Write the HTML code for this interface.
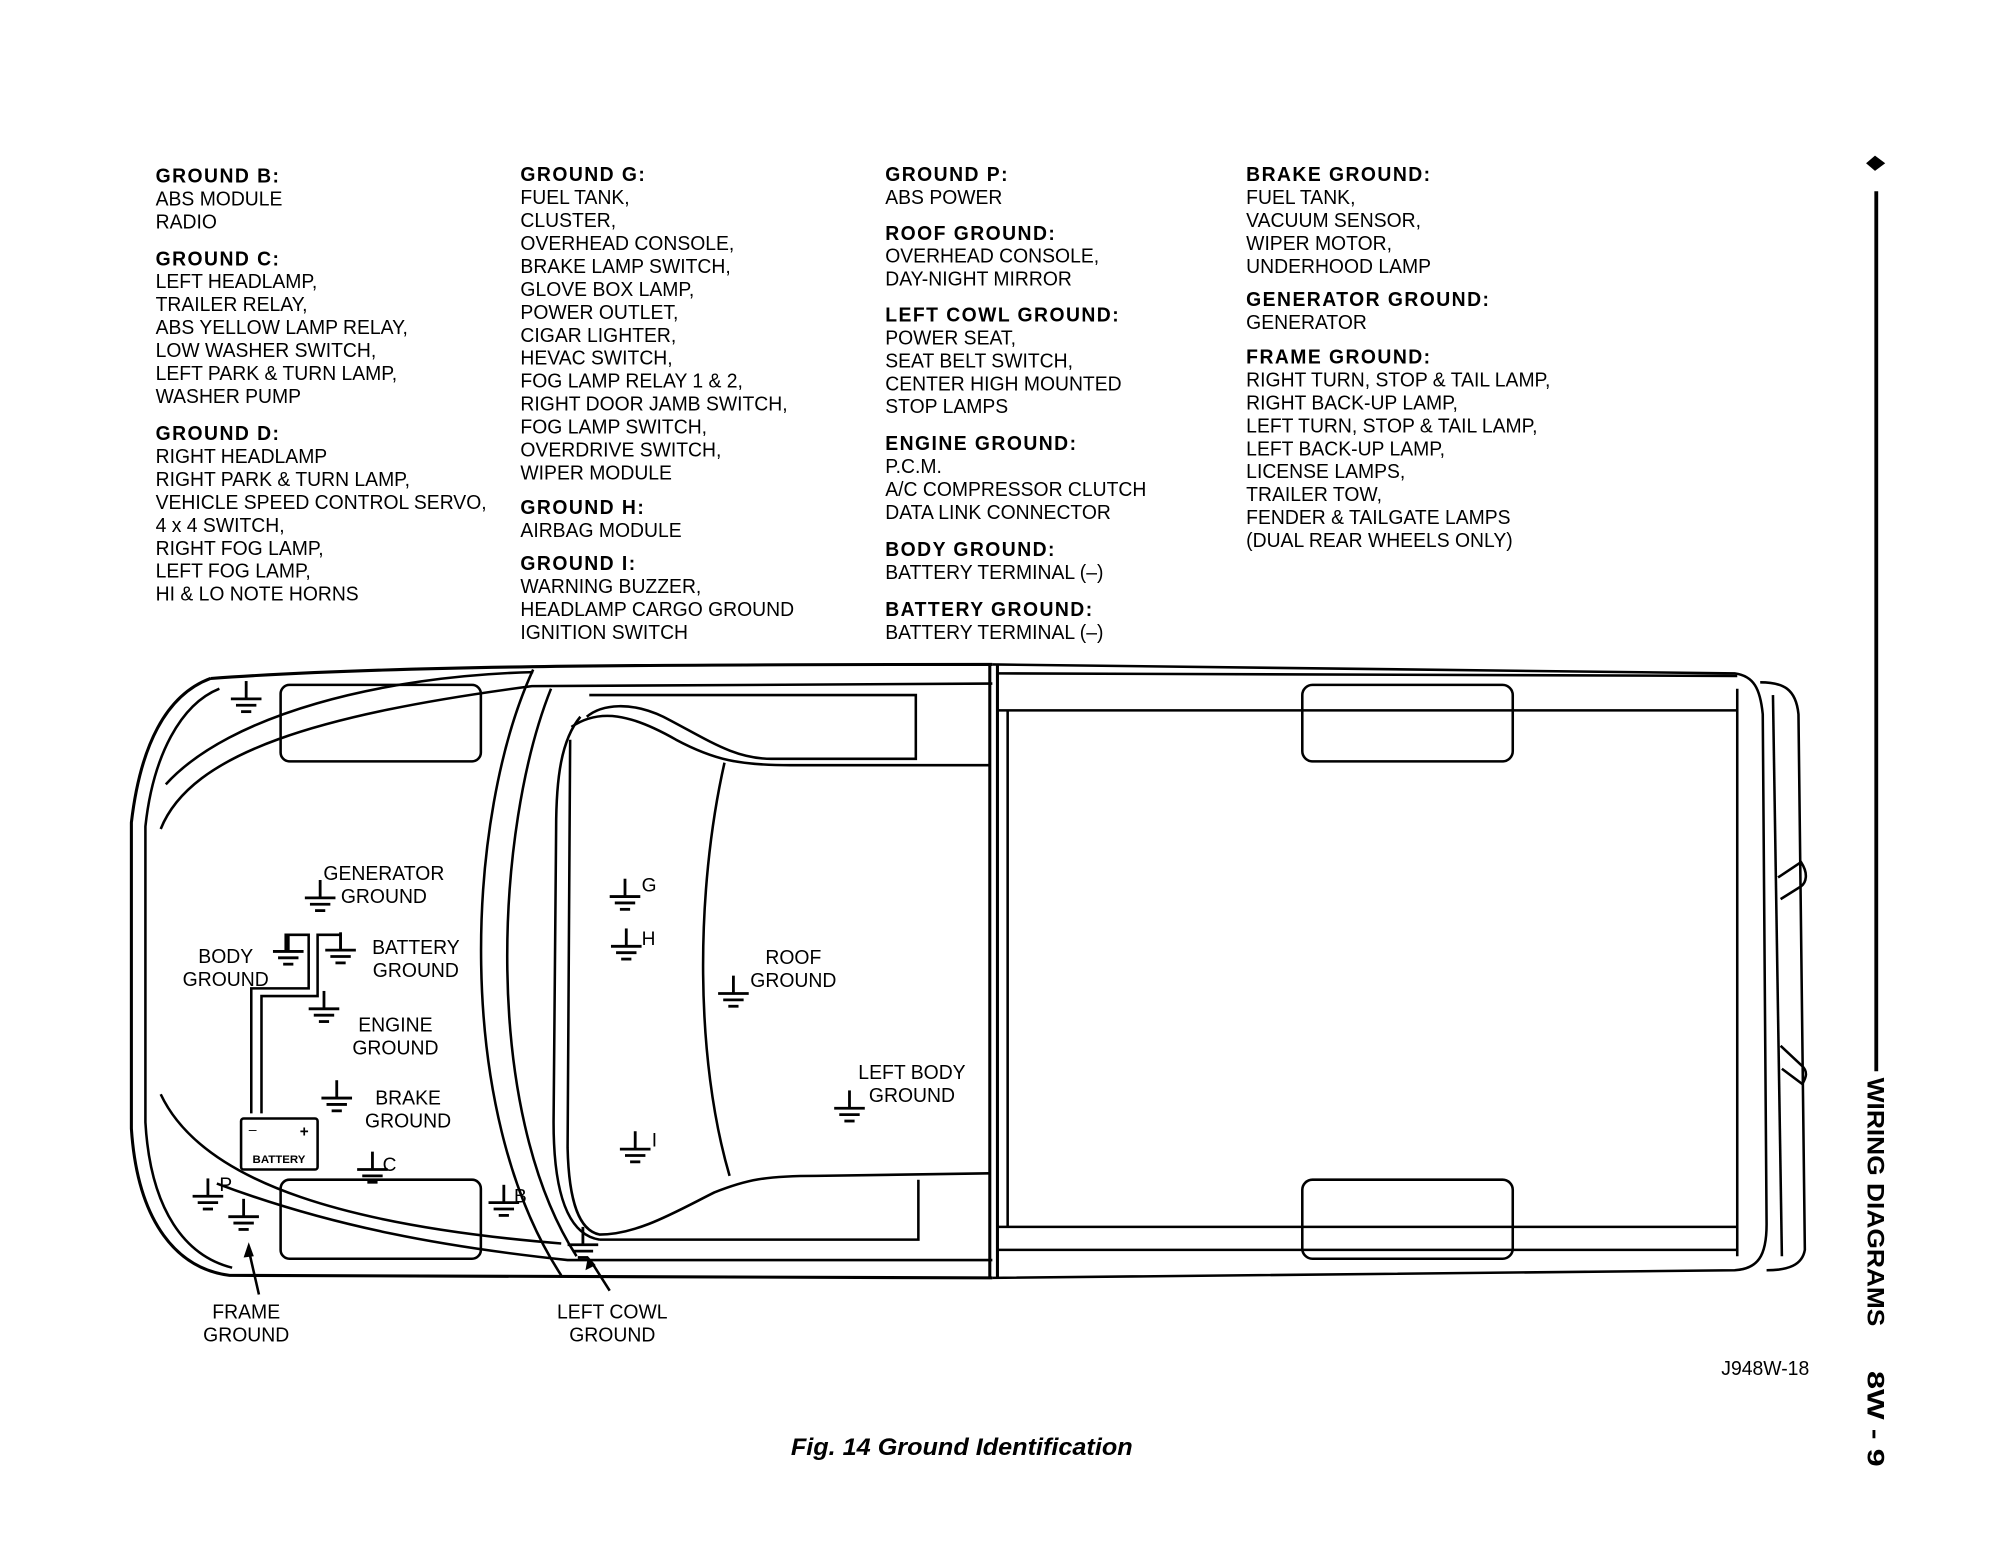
<!DOCTYPE html>
<html><head><meta charset="utf-8"><style>
html,body{margin:0;padding:0;background:#fff;}
svg{display:block;}
text{font-family:"Liberation Sans",sans-serif;fill:#000;}
.t{font-size:16px;}
.b{font-size:16px;font-weight:bold;letter-spacing:1.2px;}
.l{font-size:16px;}
</style></head><body>
<svg width="2000" height="1547" viewBox="0 0 1568 1213" preserveAspectRatio="none" xmlns="http://www.w3.org/2000/svg">
<defs>
<g id="gnd" stroke="#000" stroke-width="2.2" fill="none">
<line x1="0" y1="-14" x2="0" y2="0"/>
<line x1="-12" y1="0" x2="12" y2="0"/>
<line x1="-8" y1="5" x2="8" y2="5"/>
<line x1="-4" y1="10" x2="4" y2="10"/>
</g>
</defs>
<rect width="1568" height="1213" fill="#fff"/>

<g transform="scale(0.948,1)">
<g transform="translate(128.7,0)">
<text class="b" y="143">GROUND B:</text>
<text class="t" y="161">ABS MODULE</text>
<text class="t" y="179">RADIO</text>
<text class="b" y="208">GROUND C:</text>
<text class="t" y="226">LEFT HEADLAMP,</text>
<text class="t" y="244">TRAILER RELAY,</text>
<text class="t" y="262">ABS YELLOW LAMP RELAY,</text>
<text class="t" y="280">LOW WASHER SWITCH,</text>
<text class="t" y="298">LEFT PARK &amp; TURN LAMP,</text>
<text class="t" y="316">WASHER PUMP</text>
<text class="b" y="345">GROUND D:</text>
<text class="t" y="363">RIGHT HEADLAMP</text>
<text class="t" y="381">RIGHT PARK &amp; TURN LAMP,</text>
<text class="t" y="399">VEHICLE SPEED CONTROL SERVO,</text>
<text class="t" y="417">4 x 4 SWITCH,</text>
<text class="t" y="435">RIGHT FOG LAMP,</text>
<text class="t" y="453">LEFT FOG LAMP,</text>
<text class="t" y="471">HI &amp; LO NOTE HORNS</text>
</g>
<g transform="translate(430.4,0)">
<text class="b" y="142">GROUND G:</text>
<text class="t" y="160">FUEL TANK,</text>
<text class="t" y="178">CLUSTER,</text>
<text class="t" y="196">OVERHEAD CONSOLE,</text>
<text class="t" y="214">BRAKE LAMP SWITCH,</text>
<text class="t" y="232">GLOVE BOX LAMP,</text>
<text class="t" y="250">POWER OUTLET,</text>
<text class="t" y="268">CIGAR LIGHTER,</text>
<text class="t" y="286">HEVAC SWITCH,</text>
<text class="t" y="304">FOG LAMP RELAY 1 &amp; 2,</text>
<text class="t" y="322">RIGHT DOOR JAMB SWITCH,</text>
<text class="t" y="340">FOG LAMP SWITCH,</text>
<text class="t" y="358">OVERDRIVE SWITCH,</text>
<text class="t" y="376">WIPER MODULE</text>
<text class="b" y="403">GROUND H:</text>
<text class="t" y="421">AIRBAG MODULE</text>
<text class="b" y="447">GROUND I:</text>
<text class="t" y="465">WARNING BUZZER,</text>
<text class="t" y="483">HEADLAMP CARGO GROUND</text>
<text class="t" y="501">IGNITION SWITCH</text>
</g>
<g transform="translate(732.1,0)">
<text class="b" y="142">GROUND P:</text>
<text class="t" y="160">ABS POWER</text>
<text class="b" y="188">ROOF GROUND:</text>
<text class="t" y="206">OVERHEAD CONSOLE,</text>
<text class="t" y="224">DAY-NIGHT MIRROR</text>
<text class="b" y="252">LEFT COWL GROUND:</text>
<text class="t" y="270">POWER SEAT,</text>
<text class="t" y="288">SEAT BELT SWITCH,</text>
<text class="t" y="306">CENTER HIGH MOUNTED</text>
<text class="t" y="324">STOP LAMPS</text>
<text class="b" y="353">ENGINE GROUND:</text>
<text class="t" y="371">P.C.M.</text>
<text class="t" y="389">A/C COMPRESSOR CLUTCH</text>
<text class="t" y="407">DATA LINK CONNECTOR</text>
<text class="b" y="436">BODY GROUND:</text>
<text class="t" y="454">BATTERY TERMINAL (–)</text>
<text class="b" y="483">BATTERY GROUND:</text>
<text class="t" y="501">BATTERY TERMINAL (–)</text>
</g>
<g transform="translate(1030.6,0)">
<text class="b" y="142">BRAKE GROUND:</text>
<text class="t" y="160">FUEL TANK,</text>
<text class="t" y="178">VACUUM SENSOR,</text>
<text class="t" y="196">WIPER MOTOR,</text>
<text class="t" y="214">UNDERHOOD LAMP</text>
<text class="b" y="240">GENERATOR GROUND:</text>
<text class="t" y="258">GENERATOR</text>
<text class="b" y="285">FRAME GROUND:</text>
<text class="t" y="303">RIGHT TURN, STOP &amp; TAIL LAMP,</text>
<text class="t" y="321">RIGHT BACK-UP LAMP,</text>
<text class="t" y="339">LEFT TURN, STOP &amp; TAIL LAMP,</text>
<text class="t" y="357">LEFT BACK-UP LAMP,</text>
<text class="t" y="375">LICENSE LAMPS,</text>
<text class="t" y="393">TRAILER TOW,</text>
<text class="t" y="411">FENDER &amp; TAILGATE LAMPS</text>
<text class="t" y="429">(DUAL REAR WHEELS ONLY)</text>
</g>
</g>

<polygon points="1463,128 1470,122 1478,128 1470,134" fill="#000"/>
<line x1="1471" y1="150" x2="1471" y2="840" stroke="#000" stroke-width="3"/>
<g transform="translate(1464,845) rotate(90)">
<text x="0" y="0" font-size="19" font-weight="bold" textLength="195" lengthAdjust="spacingAndGlyphs">WIRING  DIAGRAMS</text>
<text x="230" y="0" font-size="19" font-weight="bold" textLength="75" lengthAdjust="spacingAndGlyphs">8W - 9</text>
</g>

<g stroke="#000" fill="none" stroke-width="2">
<path d="M165,532 C130,545 110,585 103,645 L103,885 C108,960 140,995 180,1000 L778,1002" stroke-width="2.4"/>
<path d="M172,540 C142,552 120,592 114,648 L114,880 C118,950 146,985 182,994"/>
<path d="M165,532 C300,522 500,521 778,521" stroke-width="2.4"/>
<line x1="776" y1="521" x2="776" y2="1002" stroke-width="2.4"/>
<line x1="782" y1="521" x2="782" y2="1002" stroke-width="2.4"/>
<path d="M126,650 C150,590 250,560 417,538 L778,536"/>
<path d="M130,615 C180,560 300,530 418,527"/>
<path d="M126,858 C160,930 280,962 440,975"/>
<path d="M170,928 C260,962 350,978 445,988 L778,988"/>
<rect x="220" y="537" width="157" height="60" rx="7"/>
<rect x="220" y="925" width="157" height="62" rx="7"/>
<path d="M418,525 C365,640 355,870 440,1000"/>
<path d="M432,540 C388,650 378,870 452,985"/>
<path d="M462,545 L718,545 L718,595 L605,595 C575,595 555,580 520,562 C495,550 472,552 460,562"/>
<path d="M455,562 C440,580 436,610 436,650 L434,880 C434,935 445,968 470,972"/>
<path d="M448,570 C470,555 495,560 530,580 C560,596 580,600 620,600 L776,600"/>
<path d="M447,580 L445,900 C446,945 455,965 470,968 C500,968 530,950 560,935 C585,925 600,922 640,922 L776,920"/>
<path d="M470,972 L720,972 L720,925"/>
<path d="M568,598 C545,700 545,830 572,922"/>
<line x1="782" y1="528" x2="1362" y2="530"/>
<line x1="782" y1="557" x2="1362" y2="557"/>
<line x1="790" y1="557" x2="790" y2="962"/>
<line x1="1362" y1="540" x2="1362" y2="985"/>
<line x1="782" y1="962" x2="1362" y2="962"/>
<line x1="782" y1="980" x2="1362" y2="980"/>
<path d="M778,521 L1360,528 C1375,530 1380,540 1382,560 L1385,960 C1385,985 1378,995 1360,996 L778,1002"/>
<path d="M1380,535 C1398,535 1408,540 1410,560 L1415,980 C1413,992 1402,996 1385,996"/>
<path d="M1390,545 L1397,985"/>
<path d="M1394,688 L1412,676 C1418,685 1416,692 1412,695 L1396,705"/>
<path d="M1396,820 L1412,835 C1418,840 1416,845 1413,850 L1397,838"/>
<rect x="1021" y="537" width="165" height="60" rx="8"/>
<rect x="1021" y="925" width="165" height="62" rx="8"/>
<path d="M197,873 L197,775 L242,775 L242,733 L224,733 L224,746"/>
<path d="M205,873 L205,781 L249,781 L249,733 L267,733 L267,745"/>
<rect x="189" y="877" width="60" height="40" rx="2"/>
<line x1="203" y1="1015" x2="195" y2="980"/>
<line x1="478" y1="1012" x2="464" y2="990"/>
</g>
<polygon points="195,974 191,986 199,985" fill="#000"/>
<polygon points="461,985 459,996 467,992" fill="#000"/>
<text x="195" y="889" font-size="11">–</text><text x="235" y="891" font-size="12" font-weight="bold">+</text>
<text x="198" y="912" font-size="9" font-weight="bold">BATTERY</text>

<use href="#gnd" x="193" y="548"/>
<use href="#gnd" x="251" y="704"/>
<use href="#gnd" x="226" y="746"/>
<use href="#gnd" x="267" y="745"/>
<use href="#gnd" x="254" y="791"/>
<use href="#gnd" x="264" y="861"/>
<use href="#gnd" x="292" y="917"/>
<use href="#gnd" x="163" y="938"/>
<use href="#gnd" x="191" y="954"/>
<use href="#gnd" x="395" y="943"/>
<use href="#gnd" x="457" y="976"/>
<use href="#gnd" x="490" y="703"/>
<use href="#gnd" x="491" y="742"/>
<use href="#gnd" x="498" y="901"/>
<use href="#gnd" x="575" y="779"/>
<use href="#gnd" x="666" y="869"/>

<g transform="scale(0.95,1)" text-anchor="middle">
<text class="l" x="316.8" y="690">GENERATOR</text>
<text class="l" x="316.8" y="708">GROUND</text>
<text class="l" x="186.3" y="755">BODY</text>
<text class="l" x="186.3" y="773">GROUND</text>
<text class="l" x="343.2" y="748">BATTERY</text>
<text class="l" x="343.2" y="766">GROUND</text>
<text class="l" x="326.3" y="809">ENGINE</text>
<text class="l" x="326.3" y="827">GROUND</text>
<text class="l" x="336.8" y="866">BRAKE</text>
<text class="l" x="336.8" y="884">GROUND</text>
<text class="l" x="654.7" y="756">ROOF</text>
<text class="l" x="654.7" y="774">GROUND</text>
<text class="l" x="752.6" y="846">LEFT BODY</text>
<text class="l" x="752.6" y="864">GROUND</text>
<text class="l" x="203.2" y="1034">FRAME</text>
<text class="l" x="203.2" y="1052">GROUND</text>
<text class="l" x="505.3" y="1034">LEFT COWL</text>
<text class="l" x="505.3" y="1052">GROUND</text>
<text class="l" x="1456.8" y="1078">J948W-18</text>
</g>
<text x="503" y="699" font-size="15">G</text>
<text x="503" y="741" font-size="15">H</text>
<text x="511" y="899" font-size="15">I</text>
<text x="300" y="918" font-size="15">C</text>
<text x="172" y="934" font-size="15">P</text>
<text x="403" y="943" font-size="15">B</text>

<text x="620" y="1141" font-size="19" font-weight="bold" font-style="italic" textLength="268" lengthAdjust="spacingAndGlyphs">Fig. 14 Ground Identification</text>
</svg>
</body></html>
